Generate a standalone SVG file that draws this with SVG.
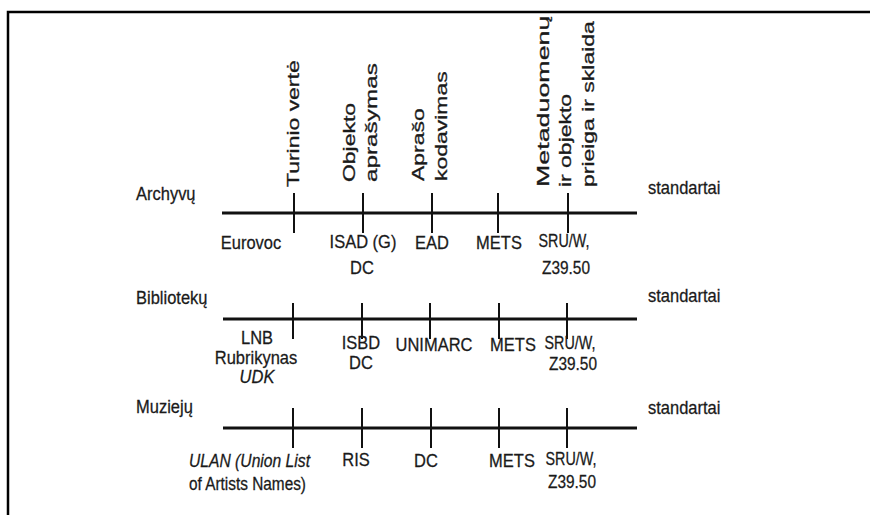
<svg xmlns="http://www.w3.org/2000/svg" width="870" height="515" viewBox="0 0 870 515">
<style>
.t{font-family:"Liberation Sans",Arial,sans-serif;font-size:16.5px;fill:#1a1a1a;stroke:#1a1a1a;stroke-width:0.25}
.v{font-family:"Liberation Sans",Arial,sans-serif;font-size:17px;fill:#1a1a1a;stroke:#1a1a1a;stroke-width:0.3}
.m{text-anchor:middle}
.i{font-style:italic}
.ax{stroke:#111;stroke-width:3;fill:none}
.tk{stroke:#111;stroke-width:2;fill:none}
</style>
<rect x="0" y="0" width="870" height="515" fill="#fff"/>
<path d="M8 515 V12 H870" fill="none" stroke="#000" stroke-width="2.5"/>

<g id="headers">
  <g id="h-turinio" transform="translate(299,187) rotate(-90) scale(1.35,1)">
    <text class="v" x="0" y="0">Turinio vertė</text>
  </g>
  <g id="h-objekto" transform="translate(355,182) rotate(-90) scale(1.35,1)">
    <text class="v" x="0" y="0">Objekto</text>
    <text class="v" x="0" y="22" textLength="88" lengthAdjust="spacingAndGlyphs">aprašymas</text>
  </g>
  <g id="h-apraso" transform="translate(424,181) rotate(-90) scale(1.35,1)">
    <text class="v" x="0" y="0">Aprašo</text>
    <text class="v" x="0" y="23">kodavimas</text>
  </g>
  <g id="h-meta" transform="translate(549,187) rotate(-90) scale(1.35,1)">
    <text class="v" x="0" y="0" textLength="127" lengthAdjust="spacingAndGlyphs">Metaduomenų</text>
    <text class="v" x="0" y="22">ir objekto</text>
    <text class="v" x="0" y="45">prieiga ir sklaida</text>
  </g>
</g>

<g id="connectors">
  <line class="ax" x1="222" y1="213" x2="637" y2="213"/>
  <line class="ax" x1="223" y1="319" x2="637" y2="319"/>
  <line class="ax" x1="223" y1="428" x2="637" y2="428"/>
  <path class="tk" d="M294 193V233M363 193V233M432 193V233M498 193V233M568 193V233"/>
  <path class="tk" d="M293 303V339M362 303V339M430 303V339M499 303V339M567 303V339"/>
  <path class="tk" d="M293 408V448M362 408V448M431 408V448M499 408V448M567 408V448"/>
</g>

<g id="row-archyvu">
  <text class="t" x="136" transform="translate(0,200) scale(1,1.12)">Archyvų</text>
  <text class="t" x="648" transform="translate(0,194) scale(1,1.12)">standartai</text>
  <text class="t m" x="251" transform="translate(0,249) scale(1,1.12)">Eurovoc</text>
  <text class="t m" x="363" transform="translate(0,248) scale(1,1.12)">ISAD (G)</text>
  <text class="t m" x="362" transform="translate(0,274) scale(1,1.12)">DC</text>
  <text class="t m" x="432" transform="translate(0,249) scale(1,1.12)">EAD</text>
  <text class="t m" x="499" transform="translate(0,249) scale(1,1.12)">METS</text>
  <text class="t m" x="564" transform="translate(0,247) scale(1,1.12)" textLength="51" lengthAdjust="spacingAndGlyphs">SRU/W,</text>
  <text class="t m" x="566" transform="translate(0,274) scale(1,1.12)" textLength="48" lengthAdjust="spacingAndGlyphs">Z39.50</text>
</g>

<g id="row-biblioteku">
  <text class="t" x="136" transform="translate(0,304) scale(1,1.12)">Bibliotekų</text>
  <text class="t" x="648" transform="translate(0,302) scale(1,1.12)">standartai</text>
  <text class="t m" x="257" transform="translate(0,344) scale(1,1.12)">LNB</text>
  <text class="t m" x="256" transform="translate(0,364) scale(1,1.12)">Rubrikynas</text>
  <text class="t m i" x="257" transform="translate(0,383) scale(1,1.12)">UDK</text>
  <text class="t m" x="361" transform="translate(0,349) scale(1,1.12)">ISBD</text>
  <text class="t m" x="361" transform="translate(0,369) scale(1,1.12)">DC</text>
  <text class="t m" x="434" transform="translate(0,351) scale(1,1.12)">UNIMARC</text>
  <text class="t m" x="513" transform="translate(0,351) scale(1,1.12)">METS</text>
  <text class="t m" x="570" transform="translate(0,349) scale(1,1.12)" textLength="51" lengthAdjust="spacingAndGlyphs">SRU/W,</text>
  <text class="t m" x="573" transform="translate(0,370) scale(1,1.12)" textLength="48" lengthAdjust="spacingAndGlyphs">Z39.50</text>
</g>

<g id="row-muzieju">
  <text class="t" x="136" transform="translate(0,413) scale(1,1.12)">Muziejų</text>
  <text class="t" x="648" transform="translate(0,414) scale(1,1.12)">standartai</text>
  <text class="t i" x="189" transform="translate(0,467) scale(1,1.12)" textLength="121" lengthAdjust="spacingAndGlyphs">ULAN (Union List</text>
  <text class="t" x="189" transform="translate(0,490) scale(1,1.12)" textLength="117" lengthAdjust="spacingAndGlyphs">of Artists Names)</text>
  <text class="t m" x="356" transform="translate(0,466) scale(1,1.12)">RIS</text>
  <text class="t m" x="426" transform="translate(0,467) scale(1,1.12)">DC</text>
  <text class="t m" x="512" transform="translate(0,467) scale(1,1.12)">METS</text>
  <text class="t m" x="571" transform="translate(0,465) scale(1,1.12)" textLength="51" lengthAdjust="spacingAndGlyphs">SRU/W,</text>
  <text class="t m" x="572" transform="translate(0,488) scale(1,1.12)" textLength="48" lengthAdjust="spacingAndGlyphs">Z39.50</text>
</g>
</svg>
